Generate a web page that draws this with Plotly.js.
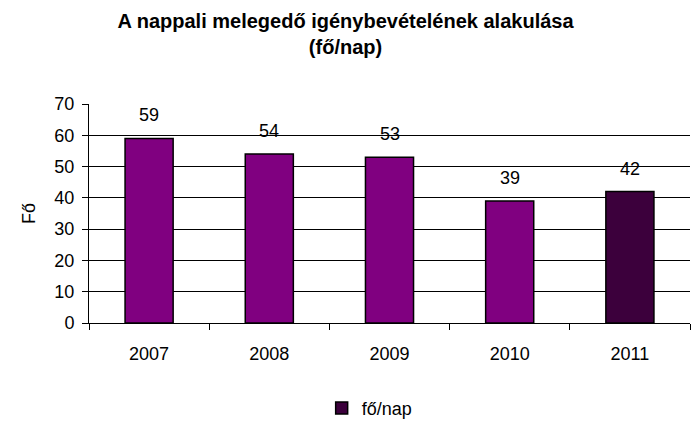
<!DOCTYPE html>
<html><head><meta charset="utf-8">
<script src="https://cdn.plot.ly/plotly-3.0.1.min.js"></script>
<style>body{margin:0;background:#fff}#c{width:691px;height:430px}</style>
</head><body><div id="c"></div>
<script>
const years = ['2007','2008','2009','2010','2011'];
const values = [59, 54, 53, 39, 42];
const barColors = ['#800080','#800080','#800080','#800080','#3c003c'];
const seriesName = 'fő/nap';
const F = 'Liberation Sans, Arial, sans-serif';

const traces = [
  {type:'bar', x:years, y:values, width:0.4, showlegend:false,
   marker:{color:barColors, line:{color:'#000', width:1.5}}, hoverinfo:'none'},
  // legend proxy for the series (drawn on hidden axes, outside their range)
  {type:'bar', x:[years[4]], y:[values[4]], name:seriesName, showlegend:true, xaxis:'x2', yaxis:'y2',
   marker:{color:barColors[4], line:{color:'#000', width:1.5}}}
];
const annotations = years.map((yr,i)=>({xref:'x', yref:'y', x:i, y:values[i], text:String(values[i]), showarrow:false,
  yanchor:'bottom', yshift:11, font:{family:F, size:18, color:'#000'}}));

const layout = {
  width:691, height:430, paper_bgcolor:'#fff', plot_bgcolor:'#fff',
  margin:{l:89, r:1, t:104, b:107},
  title:{text:'<b>A nappali melegedő igénybevételének alakulása<br>(fő/nap)</b>',
    font:{family:F, size:20, color:'#000'}, x:0.5, xanchor:'center', y:0.935, yref:'container', yanchor:'middle'},
  xaxis:{type:'category', range:[-0.5,4.5], showgrid:false, showline:true, linecolor:'#000', linewidth:1,
    ticks:'outside', tickson:'boundaries', ticklen:6, tickcolor:'#000', tickwidth:1,
    ticklabelstandoff:14, tickfont:{family:F, size:18, color:'#000'}},
  xaxis2:{overlaying:'x', visible:false, type:'category', range:[-0.5,0.5]},
  yaxis2:{overlaying:'y', visible:false, range:[100,200]},
  yaxis:{range:[0,70], dtick:10, showgrid:true, gridcolor:'#000', gridwidth:1,
    showline:true, linecolor:'#000', linewidth:1, ticks:'outside', ticklen:6, tickcolor:'#000',
    ticklabelstandoff:4, zeroline:false, tickfont:{family:F, size:18, color:'#000'},
    title:{text:'Fő', font:{family:F, size:18, color:'#000'}, standoff:14}},
  showlegend:true,
  legend:{orientation:'h', x:0.467, xanchor:'center', y:-0.39, yanchor:'middle',
    font:{family:F, size:18, color:'#000'}, itemwidth:30},
  annotations:annotations
};
Plotly.newPlot('c', traces, layout, {displayModeBar:false, staticPlot:true});
</script></body></html>
